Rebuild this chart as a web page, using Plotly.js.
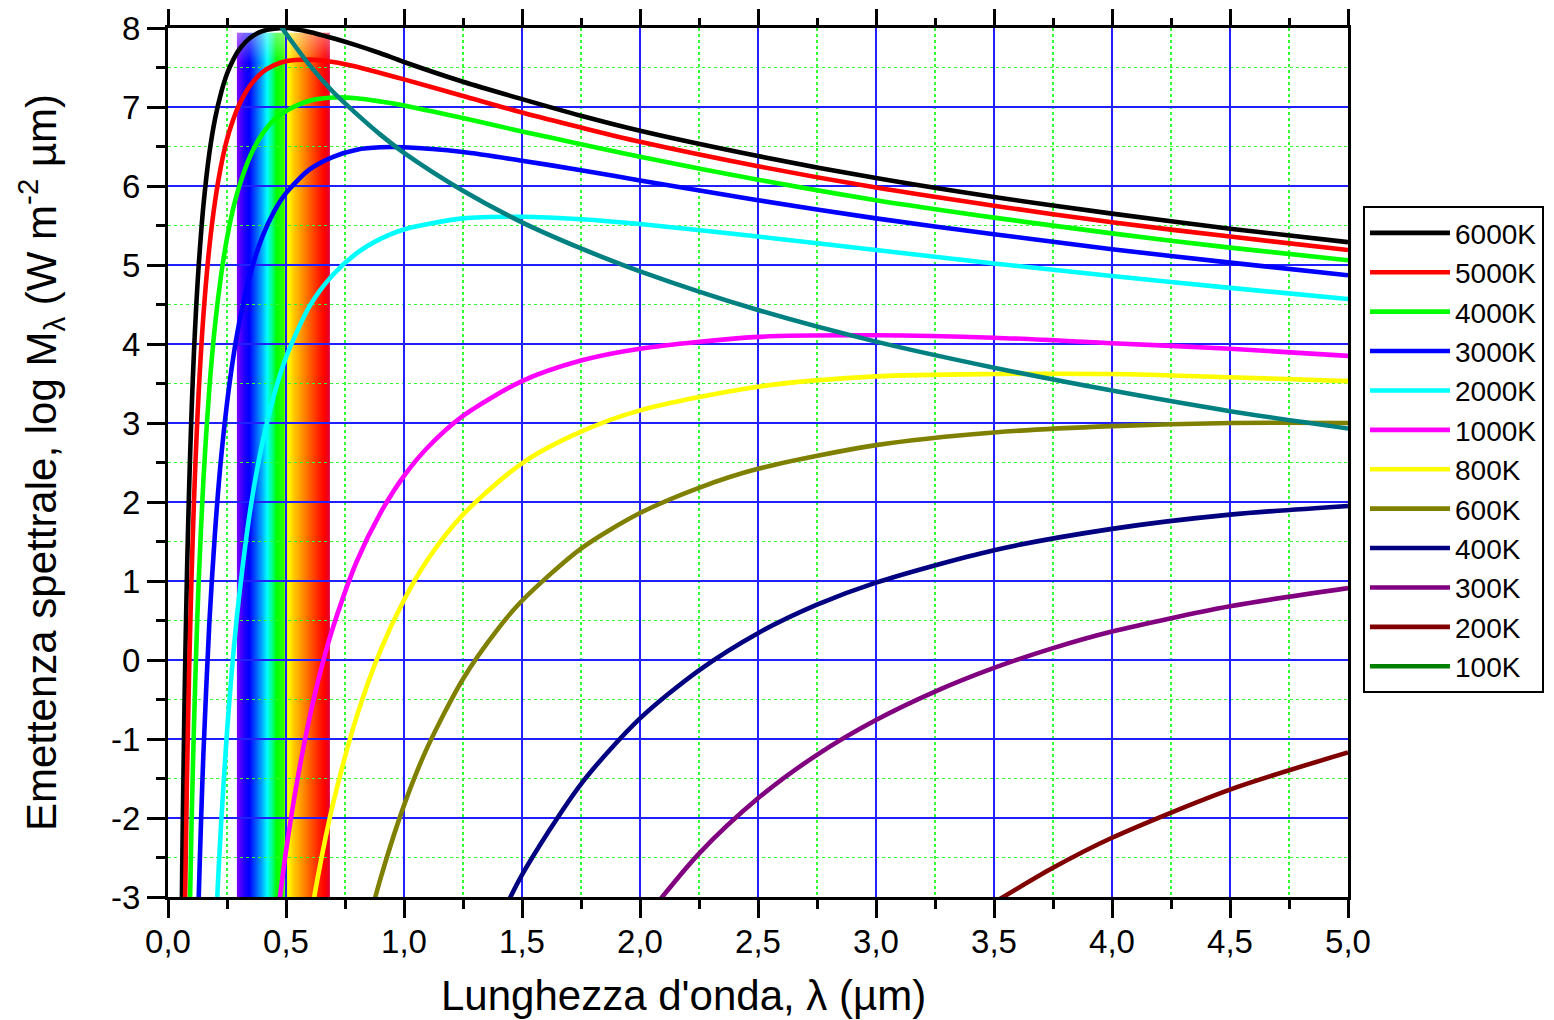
<!DOCTYPE html>
<html><head><meta charset="utf-8">
<script src="https://cdn.plot.ly/plotly-3.0.1.min.js"></script>
<style>body{margin:0;background:#fff}#chart{width:1554px;height:1020px}</style>
</head><body><div id="chart"></div>
<script>
// ---- data ----
const seriesNames = ['6000K','5000K','4000K','3000K','2000K','1000K','800K','600K','400K','300K','200K','100K'];

const lam6000 = [0.05,0.06,0.07,0.08,0.09,0.1,0.11,0.12,0.13,0.15,0.175,0.2,0.225,0.25,0.275,0.3,0.35,0.4,0.45,0.5,0.6,0.7,0.8,0.9,1.0,1.25,1.5,1.75,2.0,2.5,3.0,3.5,4.0,4.5,5.0];
const m6000  = [-5.75,-2.68,-0.53,1.04,2.23,3.16,3.90,4.50,4.99,5.75,6.41,6.86,7.18,7.42,7.59,7.72,7.88,7.96,7.99,8.00,7.95,7.87,7.78,7.68,7.57,7.32,7.10,6.89,6.70,6.38,6.10,5.86,5.65,5.46,5.29];

const lam5000 = [0.07,0.08,0.09,0.1,0.11,0.12,0.13,0.15,0.175,0.2,0.225,0.25,0.275,0.3,0.35,0.4,0.45,0.5,0.6,0.7,0.8,0.9,1.0,1.25,1.5,1.75,2.0,2.5,3.0,3.5,4.0,4.5,5.0];
const m5000  = [-3.51,-1.56,-0.08,1.08,2.01,2.76,3.39,4.36,5.22,5.82,6.26,6.59,6.83,7.02,7.28,7.44,7.53,7.58,7.60,7.57,7.51,7.43,7.35,7.14,6.93,6.74,6.56,6.25,5.98,5.75,5.54,5.36,5.19];

const lam4000 = [0.09,0.1,0.11,0.12,0.13,0.15,0.175,0.2,0.225,0.25,0.275,0.3,0.35,0.4,0.45,0.5,0.6,0.7,0.8,0.9,1.0,1.25,1.5,1.75,2.0,2.5,3.0,3.5,4.0,4.5,5.0];
const m4000  = [-3.56,-2.05,-0.84,0.16,0.99,2.28,3.43,4.26,4.87,5.34,5.70,5.98,6.39,6.66,6.84,6.95,7.08,7.12,7.11,7.07,7.02,6.86,6.69,6.53,6.37,6.08,5.82,5.60,5.40,5.22,5.06];

const lam3000 = [0.12,0.13,0.14,0.15,0.175,0.2,0.225,0.25,0.275,0.3,0.35,0.4,0.45,0.5,0.6,0.7,0.8,0.9,1.0,1.25,1.5,1.75,2.0,2.5,3.0,3.5,4.0,4.5,5.0];
const m3000  = [-4.18,-3.02,-2.04,-1.19,0.46,1.65,2.56,3.25,3.80,4.24,4.90,5.36,5.68,5.91,6.21,6.37,6.46,6.49,6.49,6.43,6.32,6.20,6.07,5.82,5.59,5.39,5.20,5.03,4.87];

const lam2000 = [0.2,0.21,0.225,0.25,0.275,0.3,0.35,0.4,0.45,0.5,0.6,0.7,0.8,0.9,1.0,1.25,1.5,1.75,2.0,2.5,3.0,3.5,4.0,4.5,5.0];
const m2000  = [-3.55,-2.92,-2.07,-0.91,0.02,0.77,1.93,2.75,3.36,3.83,4.48,4.88,5.15,5.33,5.45,5.59,5.61,5.58,5.52,5.36,5.19,5.02,4.86,4.71,4.57];

const lam1000 = [0.45,0.5,0.55,0.6,0.65,0.7,0.8,0.9,1.0,1.1,1.25,1.5,1.75,2.0,2.5,3.0,3.5,4.0,4.5,5.0];
const m1000  = [-3.58,-2.42,-1.49,-0.73,-0.10,0.42,1.25,1.86,2.33,2.69,3.09,3.53,3.79,3.94,4.09,4.11,4.08,4.01,3.94,3.85];

const lam800 = [0.55,0.6,0.65,0.7,0.8,0.9,1.0,1.1,1.25,1.5,1.75,2.0,2.5,3.0,3.5,4.0,4.5,5.0];
const m800  = [-4.33,-3.34,-2.51,-1.81,-0.71,0.12,0.76,1.27,1.84,2.49,2.89,3.16,3.46,3.59,3.62,3.62,3.58,3.53];

const lam600 = [0.8,0.85,0.9,1.0,1.1,1.25,1.4,1.5,1.75,2.0,2.25,2.5,3.0,3.5,4.0,4.5,5.0];
const m600  = [-3.96,-3.33,-2.77,-1.84,-1.10,-0.24,0.40,0.75,1.41,1.86,2.18,2.42,2.72,2.88,2.96,3.00,3.00];

const lam400 = [1.4,1.5,1.75,2.0,2.25,2.5,2.75,3.0,3.5,4.0,4.5,5.0];
const m400  = [-3.32,-2.72,-1.57,-0.74,-0.13,0.34,0.70,0.98,1.39,1.66,1.84,1.95];

const lam300 = [2.0,2.25,2.5,2.75,3.0,3.25,3.5,3.75,4.0,4.5,5.0];
const m300  = [-3.35,-2.45,-1.75,-1.20,-0.76,-0.40,-0.10,0.15,0.36,0.68,0.91];

const lam200 = [3.5,3.75,4.0,4.5,5.0];
const m200  = [-3.07,-2.63,-2.25,-1.64,-1.17];

const lam100 = [4.0,4.5,5.0];
const m100  = [-10.06,-8.58,-7.42];

// peak (Wien) locus
const lamPeak = [0.45,0.5,0.6,0.7,0.8,0.9,1.0,1.25,1.5,1.75,2.0,2.5,3.0,3.5,4.0,4.5,5.0];
const mPeak   = [8.15,7.93,7.53,7.19,6.91,6.65,6.42,5.94,5.54,5.21,4.92,4.43,4.03,3.70,3.41,3.15,2.93];

// visible band
const bandLam = [0.292, 0.686];
const bandTop = 7.94;
const spectrumStops = [
  [0.292,'#8000ff'],[0.32,'#2a00ff'],[0.345,'#0000ff'],[0.375,'#0060ff'],[0.40,'#00b0ff'],
  [0.42,'#00ffff'],[0.44,'#00ff90'],[0.46,'#00ff00'],[0.49,'#30ff00'],[0.50,'#c0ff00'],
  [0.51,'#ffff00'],[0.53,'#ffd000'],[0.56,'#ffa000'],[0.60,'#ff6000'],[0.64,'#ff2000'],
  [0.665,'#ff0000'],[0.686,'#e0003a']
];

const xTickVals = [0,0.5,1,1.5,2,2.5,3,3.5,4,4.5,5];
const xTickText = ['0,0','0,5','1,0','1,5','2,0','2,5','3,0','3,5','4,0','4,5','5,0'];
const yTickVals = [-3,-2,-1,0,1,2,3,4,5,6,7,8];
const yTickText = ['-3','-2','-1','0','1','2','3','4','5','6','7','8'];
const xTitle = "Lunghezza d'onda, λ (µm)";
const yTitle = 'Emettenza spettrale, log M<sub>λ</sub> (W m<sup>-2</sup> µm)';

// ---- build ----
const lamArrays = [lam6000,lam5000,lam4000,lam3000,lam2000,lam1000,lam800,lam600,lam400,lam300,lam200,lam100];
const mArrays   = [m6000,m5000,m4000,m3000,m2000,m1000,m800,m600,m400,m300,m200,m100];
const colors = ['#000000','#ff0000','#00ff00','#0000ff','#00ffff','#ff00ff','#ffff00','#808000','#000080','#800080','#800000','#008000'];

const traces = seriesNames.map((n,i)=>({
  x: lamArrays[i], y: mArrays[i], name: n, type:'scatter', mode:'lines',
  line:{color:colors[i], width:4.6, shape:'spline', smoothing:0.8}
}));
traces.push({x: lamPeak, y: mPeak, name:'picco', showlegend:false, type:'scatter', mode:'lines',
  line:{color:'#008080', width:4.6, shape:'spline', smoothing:0.8}});
// helper trace for the top axis
traces.push({x:[0], y:[-3], xaxis:'x2', yaxis:'y', mode:'markers', marker:{opacity:0}, showlegend:false, hoverinfo:'skip'});

// spectrum image via canvas
function hex(c){return [parseInt(c.slice(1,3),16),parseInt(c.slice(3,5),16),parseInt(c.slice(5,7),16)];}
const cv = document.createElement('canvas');
const W = 400, H = 300;
cv.width = W; cv.height = H;
const ctx = cv.getContext('2d');
const img = ctx.createImageData(W,H);
for (let px=0; px<W; px++){
  const lam = bandLam[0] + (bandLam[1]-bandLam[0])*(px+0.5)/W;
  let k=0; while(k<spectrumStops.length-2 && lam>spectrumStops[k+1][0]) k++;
  const a=spectrumStops[k], b=spectrumStops[k+1];
  const t=Math.max(0,Math.min(1,(lam-a[0])/(b[0]-a[0])));
  const ca=hex(a[1]), cb=hex(b[1]);
  const c=[0,1,2].map(j=>ca[j]+(cb[j]-ca[j])*t);
  for (let py=0; py<H; py++){
    const f = py < 10 ? 0.4*(1-py/10) : 0;
    const o=(py*W+px)*4;
    img.data[o]=c[0]+(255-c[0])*f; img.data[o+1]=c[1]+(255-c[1])*f; img.data[o+2]=c[2]+(255-c[2])*f; img.data[o+3]=255;
  }
}
ctx.putImageData(img,0,0);
const bandSrc = cv.toDataURL('image/png');

const FONT = 'Liberation Sans, Arial, sans-serif';
const axisCommon = {
  showline:true, linecolor:'#000', linewidth:3,
  ticks:'outside', ticklen:18, tickwidth:3, tickcolor:'#000',
  zeroline:false, tickfont:{family:FONT, size:33, color:'#000'}
};

const layout = {
  width:1554, height:1020,
  margin:{l:168, r:206, t:28, b:123, autoexpand:false},
  paper_bgcolor:'#fff', plot_bgcolor:'#fff',
  font:{family:FONT, color:'#000'},
  showlegend:true,
  legend:{x:1.0127, y:0.795, xanchor:'left', yanchor:'top',
    bordercolor:'#000', borderwidth:2, bgcolor:'#fff',
    font:{family:FONT, size:28, color:'#000'}, itemwidth:80, tracegroupgap:0},
  xaxis: Object.assign({}, axisCommon, {
    range:[0,5], tickmode:'array', tickvals:xTickVals, ticktext:xTickText,
    mirror:true, showgrid:true, gridcolor:'#2020ff', gridwidth:1.5,
    ticklabelstandoff:-5,
    minor:{tickmode:'linear', tick0:0, dtick:0.25, ticks:'outside', ticklen:9, tickwidth:3, tickcolor:'#000',
      showgrid:true, gridcolor:'#33ff33', gridwidth:1.5, griddash:'dot'}
  }),
  xaxis2: Object.assign({}, axisCommon, {
    range:[0,5], overlaying:'x', side:'top', anchor:'y', tickmode:'array', tickvals:xTickVals,
    showticklabels:false, showgrid:false, showline:false,
    minor:{tickmode:'linear', tick0:0, dtick:0.25, ticks:'outside', ticklen:9, tickwidth:3, tickcolor:'#000', showgrid:false}
  }),
  yaxis: Object.assign({}, axisCommon, {
    range:[-3,8], tickmode:'array', tickvals:yTickVals, ticktext:yTickText,
    mirror:true, showgrid:true, gridcolor:'#2020ff', gridwidth:1.5,
    ticklabelstandoff:0,
    minor:{tickmode:'linear', tick0:0, dtick:0.5, ticks:'outside', ticklen:9, tickwidth:3, tickcolor:'#000',
      showgrid:true, gridcolor:'#33ff33', gridwidth:1.5, griddash:'dot'},
    title:{text:yTitle, font:{family:FONT, size:42, color:'#000'}, standoff:42}
  }),
  annotations:[{text:xTitle, xref:'paper', yref:'paper', x:0.437, y:-0.113, xanchor:'center', yanchor:'middle',
    showarrow:false, font:{family:FONT, size:42, color:'#000'}}],
  images:[{source:bandSrc, xref:'x', yref:'y', x:bandLam[0], y:bandTop, sizex:bandLam[1]-bandLam[0], sizey:bandTop+3,
    xanchor:'left', yanchor:'top', sizing:'stretch', layer:'below'}]
};

Plotly.newPlot('chart', traces, layout, {displayModeBar:false, staticPlot:true});
</script>
</body></html>
